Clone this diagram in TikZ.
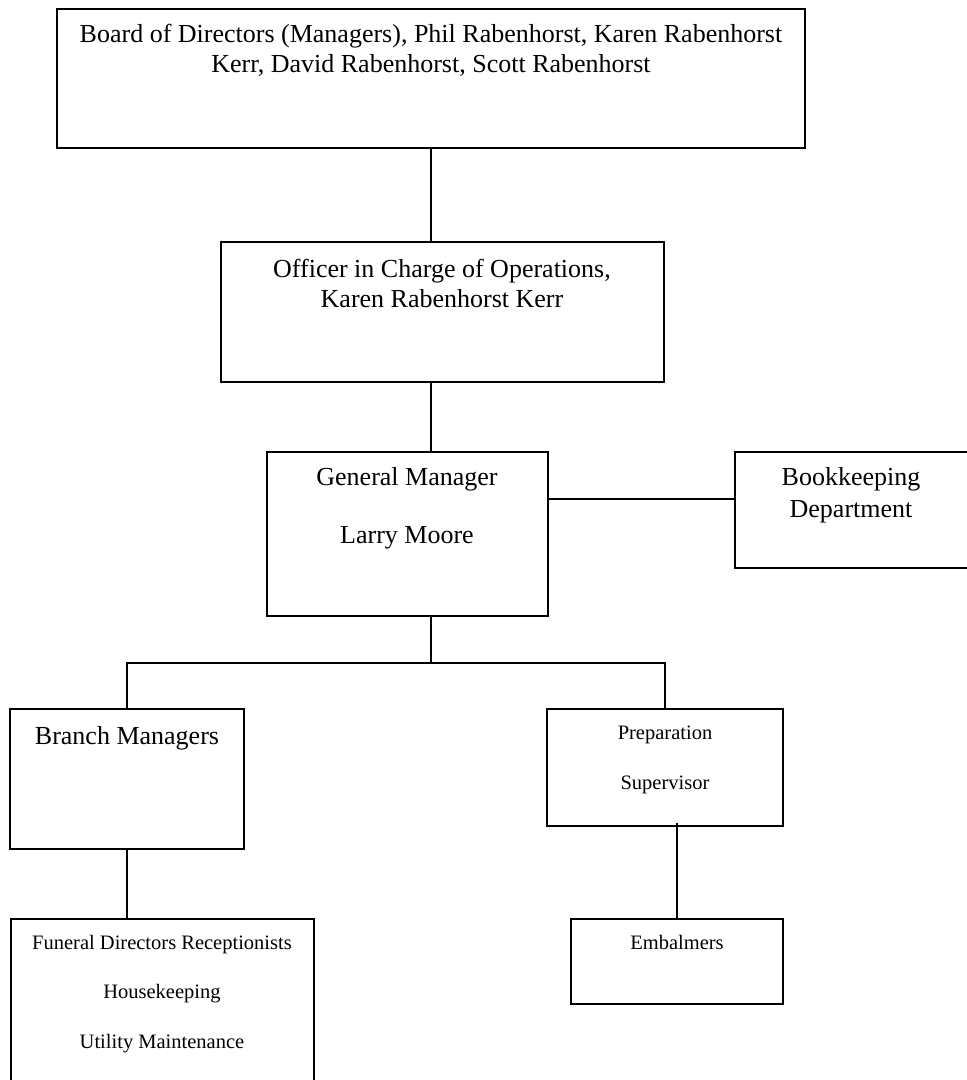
\documentclass[tikz,border=0pt]{standalone}
\usepackage{fontspec}
\setmainfont{Liberation Serif}
\tikzset{
  box/.style={draw, line width=1.5pt, inner sep=0pt, outer sep=0pt, anchor=north west},
  conn/.style={line width=1.5pt},
  bigtxt/.style={font=\fontsize{26}{30}\selectfont, align=center, inner sep=0pt, anchor=base},
  smalltxt/.style={font=\fontsize{20.5}{50}\selectfont, align=center, inner sep=0pt, anchor=base}
}
\begin{document}
\begin{tikzpicture}[x=1pt, y=-1pt]
\useasboundingbox (0,0) rectangle (967,1080);
% boxes
\node[box, minimum width=748pt, minimum height=139pt] (board) at (57,9) {};
\node[box, minimum width=443pt, minimum height=140pt] (officer) at (221,242) {};
\node[box, minimum width=281pt, minimum height=164pt] (gm) at (267,452) {};
\node[box, minimum width=240pt, minimum height=116pt] (bk) at (735,452) {};
\node[box, minimum width=234pt, minimum height=140pt] (br) at (10,709) {};
\node[box, minimum width=236pt, minimum height=117pt] (prep) at (547,709) {};
\node[box, minimum width=303pt, minimum height=170pt] (fun) at (11,919) {};
\node[box, minimum width=212pt, minimum height=85pt] (emb) at (571,919) {};
% texts (anchor base = baseline of the last line)
\node[bigtxt] (boardtxt) at (431,72) {Board of Directors (Managers), Phil Rabenhorst, Karen Rabenhorst\\Kerr, David Rabenhorst, Scott Rabenhorst};
\node[bigtxt] (officertxt) at (442,307) {Officer in Charge of Operations,\\Karen Rabenhorst Kerr};
\node[bigtxt, font=\fontsize{26}{58}\selectfont] (gmtxt) at (407,543) {General Manager\\Larry Moore};
\node[bigtxt, font=\fontsize{26}{32}\selectfont] (bktxt) at (851,517) {Bookkeeping\\Department};
\node[bigtxt] (brtxt) at (127,744) {Branch Managers};
\node[smalltxt] (preptxt) at (665,789) {Preparation\\Supervisor};
\node[smalltxt] (embtxt) at (677,949) {Embalmers};
\node[smalltxt, font=\fontsize{20.5}{49.5}\selectfont] (funtxt) at (162,1048) {Funeral Directors Receptionists\\Housekeeping\\Utility Maintenance};
% connectors
\coordinate (spine) at (431,663);
\draw[conn] (board.south) -- (board.south |- officer.north);
\draw[conn] (spine |- officer.south) -- (spine |- gm.north);
\draw[conn] ([yshift=35pt]gm.east) coordinate (gmr) -- (gmr -| bk.west);
\draw[conn] (spine |- gm.south) -- (spine);
\draw[conn] (br.north) |- (spine) -| (prep.north);
\draw[conn] (br.south) -- (br.south |- fun.north);
\draw[conn] ([yshift=3pt]prep.south -| emb.north) -- (emb.north);
\end{tikzpicture}
\end{document}
